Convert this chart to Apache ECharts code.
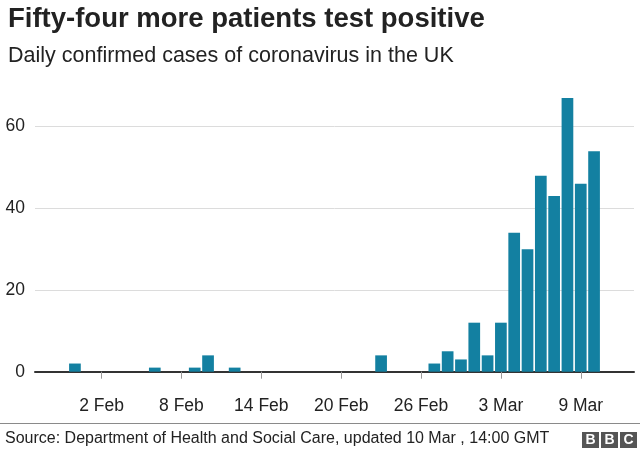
<!DOCTYPE html>
<html>
<head>
<meta charset="utf-8">
<script src="https://cdn.jsdelivr.net/npm/echarts@6/dist/echarts.min.js"></script>
<style>
html,body{margin:0;padding:0;background:#fff;}
#chart{width:640px;height:450px;}
</style>
</head>
<body>
<div id="chart"></div>
<script>
const days = ['31 Jan',
  '1 Feb','2 Feb','3 Feb','4 Feb','5 Feb','6 Feb','7 Feb','8 Feb','9 Feb','10 Feb',
  '11 Feb','12 Feb','13 Feb','14 Feb','15 Feb','16 Feb','17 Feb','18 Feb','19 Feb','20 Feb',
  '21 Feb','22 Feb','23 Feb','24 Feb','25 Feb','26 Feb','27 Feb','28 Feb','29 Feb',
  '1 Mar','2 Mar','3 Mar','4 Mar','5 Mar','6 Mar','7 Mar','8 Mar','9 Mar','10 Mar'];
const cases = [2,
  0,0,0,0,0,1,0,0,1,4,
  0,1,0,0,0,0,0,0,0,0,
  0,0,4,0,0,0,2,5,3,
  12,4,12,34,30,48,43,67,46,54];
const tickLabels = ['2 Feb','8 Feb','14 Feb','20 Feb','26 Feb','3 Mar','9 Mar'];

const FONT = "'Liberation Sans', Arial, Helvetica, sans-serif";
const tickPos = tickLabels.map(t => days.indexOf(t));
const chart = echarts.init(document.getElementById('chart'), null, {renderer:'canvas'});
chart.setOption({
  animation: false,
  backgroundColor: '#ffffff',
  title: [
    {text: 'Fifty-four more patients test positive', left: 3, top: 0,
     textStyle: {fontFamily: FONT, fontSize: 27.5, fontWeight: 'bold', color: '#222222'}},
    {text: 'Daily confirmed cases of coronavirus in the UK', left: 3, top: 40,
     textStyle: {fontFamily: FONT, fontSize: 21.5, fontWeight: 'normal', color: '#222222'}}
  ],
  grid: {left: 35, right: 6, top: 85.8, bottom: 78.3, containLabel: false},
  xAxis: [
    {type: 'value', min: -3, max: 42, position: 'bottom',
     axisLine: {show: true, onZero: false, lineStyle: {color: '#333333', width: 2}},
     axisTick: {show: false}, axisLabel: {show: false}, splitLine: {show: false}},
    {type: 'value', min: -3, max: 42, position: 'bottom', offset: 14,
     axisLine: {show: false},
     axisTick: {show: true, length: 7, customValues: tickPos, lineStyle: {color: '#999999', width: 1}},
     axisLabel: {show: true, customValues: tickPos, margin: 11, fontFamily: FONT, fontSize: 17.5, color: '#222222',
       formatter: v => days[Math.round(v)] || ''},
     splitLine: {show: false}}
  ],
  yAxis: {
    type: 'value', min: 0, max: 70, interval: 20,
    axisLine: {show: false}, axisTick: {show: false},
    axisLabel: {fontFamily: FONT, fontSize: 17.5, color: '#222222', margin: 10, showMaxLabel: false},
    splitLine: {show: true, showMinLine: false, showMaxLine: false, lineStyle: {color: '#dcdcdc', width: 1}}
  },
  series: [{
    type: 'bar', xAxisIndex: 0,
    data: cases.map((v, i) => [i, v]),
    barWidth: 11.7,
    itemStyle: {color: '#1380A1'},
    z: 3
  }],
  graphic: [
    {type: 'line', shape: {x1: 0, y1: 423.5, x2: 640, y2: 423.5}, style: {stroke: '#8a8a8a', lineWidth: 1}},
    {type: 'text', left: 5, top: 431, style: {text: 'Source: Department of Health and Social Care, updated 10 Mar , 14:00 GMT',
      font: "16px " + FONT, fill: '#222222'}},
    {type: 'group', left: 582, top: 432, children: [
      {type: 'rect', shape: {x: 0, y: 0, width: 17, height: 16}, style: {fill: '#555555'}},
      {type: 'rect', shape: {x: 19, y: 0, width: 17, height: 16}, style: {fill: '#555555'}},
      {type: 'rect', shape: {x: 38, y: 0, width: 17, height: 16}, style: {fill: '#555555'}},
      {type: 'text', style: {x: 8.5, y: 8.5, text: 'B', font: "bold 14px " + FONT, fill: '#ffffff', align: 'center', verticalAlign: 'middle'}},
      {type: 'text', style: {x: 27.5, y: 8.5, text: 'B', font: "bold 14px " + FONT, fill: '#ffffff', align: 'center', verticalAlign: 'middle'}},
      {type: 'text', style: {x: 46.5, y: 8.5, text: 'C', font: "bold 14px " + FONT, fill: '#ffffff', align: 'center', verticalAlign: 'middle'}}
    ]}
  ]
});
</script>
</body>
</html>
